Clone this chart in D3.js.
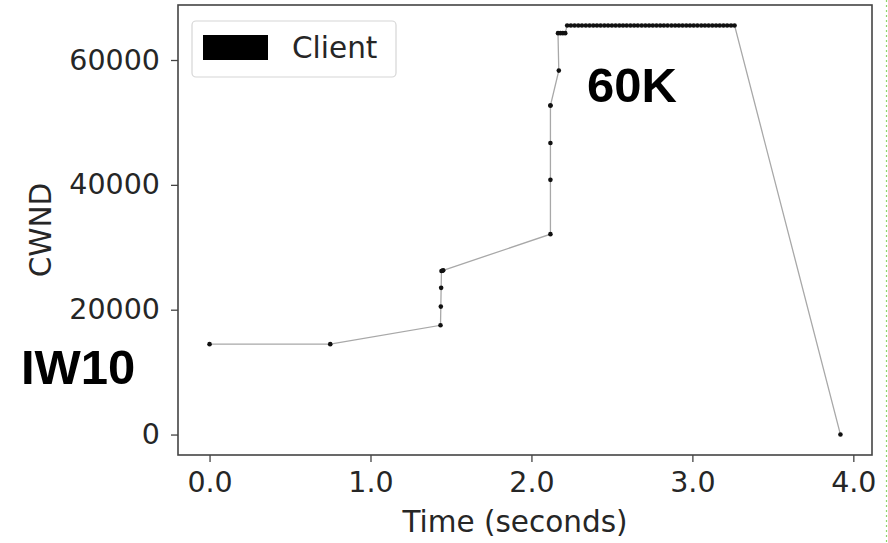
<!DOCTYPE html>
<html>
<head>
<meta charset="utf-8">
<script src="https://cdn.jsdelivr.net/npm/d3@7"></script>
<style>
  html, body { margin: 0; padding: 0; background: #fff; }
  svg { display: block; }
  .tick text { font-family: "DejaVu Sans", sans-serif; }
</style>
</head>
<body>
<svg id="chart" width="888" height="543"></svg>
<script>
// Congestion window of the client over time
const timeEarly = [0.0, 0.75, 1.435, 1.437, 1.439, 1.441, 1.446, 1.452];
const cwndEarly = [14480, 14480, 17500, 20500, 23500, 26200, 26250, 26300];

const timeMid = [2.118, 2.118, 2.118, 2.118, 2.118, 2.17, 2.165, 2.18, 2.195, 2.21];
const cwndMid = [32100, 40800, 46700, 52700, 52700, 58300, 64300, 64300, 64300, 64300];

const timeTop = [2.222, 2.245, 2.268, 2.291, 2.314, 2.338, 2.361, 2.384, 2.407, 2.430,
                 2.453, 2.476, 2.500, 2.523, 2.546, 2.569, 2.592, 2.615, 2.638, 2.661,
                 2.685, 2.708, 2.731, 2.754, 2.777, 2.800, 2.823, 2.846, 2.870, 2.893,
                 2.916, 2.939, 2.962, 2.985, 3.008, 3.031, 3.055, 3.078, 3.101, 3.124,
                 3.147, 3.170, 3.193, 3.216, 3.240, 3.262];
const cwndTopValue = 65535;

const timeEnd = [3.92];
const cwndEnd = [0];

const xTicks = [0, 1, 2, 3, 4];
const xTickLabels = ["0.0", "1.0", "2.0", "3.0", "4.0"];
const yTicks = [0, 20000, 40000, 60000];
const seriesName = "Client";

// assemble the series
const points = [];
timeEarly.forEach((t, i) => points.push({ t, w: cwndEarly[i] }));
timeMid.forEach((t, i) => points.push({ t, w: cwndMid[i] }));
timeTop.forEach(t => points.push({ t, w: cwndTopValue }));
timeEnd.forEach((t, i) => points.push({ t, w: cwndEnd[i] }));

const svg = d3.select("#chart");
const plot = { left: 178, right: 872, top: 5, bottom: 455 };

// 5% padding on both axes, like the usual autoscale
const tExt = d3.extent(points, d => d.t);
const wExt = d3.extent(points, d => d.w);
const tPad = (tExt[1] - tExt[0]) * 0.05;
const wPad = (wExt[1] - wExt[0]) * 0.05;

const x = d3.scaleLinear().domain([tExt[0] - tPad, tExt[1] + tPad]).range([plot.left, plot.right]);
const y = d3.scaleLinear().domain([wExt[0] - wPad, wExt[1] + wPad]).range([plot.bottom, plot.top]);

const axisColor = "#444";
const textColor = "#262626";
const tickFont = 28.5;
const labelFont = 29.5;

// connecting line
svg.append("path")
  .datum(points)
  .attr("fill", "none")
  .attr("stroke", "#a8a8a8")
  .attr("stroke-width", 1.3)
  .attr("d", d3.line().x(d => x(d.t)).y(d => y(d.w)));

// point markers
svg.append("g")
  .selectAll("circle")
  .data(points)
  .join("circle")
  .attr("cx", d => x(d.t))
  .attr("cy", d => y(d.w))
  .attr("r", 2.3)
  .attr("fill", "#111");

// axes
const xAxis = d3.axisBottom(x).tickValues(xTicks).tickFormat((d, i) => xTickLabels[i]).tickSize(7).tickSizeOuter(0).tickPadding(10);
const yAxis = d3.axisLeft(y).tickValues(yTicks).tickFormat(d3.format("d")).tickSize(7).tickSizeOuter(0).tickPadding(11);

const gx = svg.append("g").attr("transform", `translate(0,${plot.bottom})`).call(xAxis);
const gy = svg.append("g").attr("transform", `translate(${plot.left},0)`).call(yAxis);
[gx, gy].forEach(g => {
  g.select(".domain").remove();
  g.selectAll(".tick line").attr("stroke", axisColor).attr("stroke-width", 1.3);
  g.selectAll(".tick text").attr("fill", textColor).style("font-size", tickFont + "px");
});

// frame
svg.append("rect")
  .attr("x", plot.left).attr("y", plot.top)
  .attr("width", plot.right - plot.left).attr("height", plot.bottom - plot.top)
  .attr("fill", "none").attr("stroke", axisColor).attr("stroke-width", 1.6);

// axis titles
svg.append("text")
  .attr("x", (plot.left + plot.right) / 2 - 10).attr("y", 532)
  .attr("text-anchor", "middle")
  .attr("font-family", "DejaVu Sans, sans-serif").attr("font-size", labelFont)
  .attr("fill", textColor)
  .text("Time (seconds)");

svg.append("text")
  .attr("transform", `translate(51,${(plot.top + plot.bottom) / 2}) rotate(-90)`)
  .attr("text-anchor", "middle")
  .attr("font-family", "DejaVu Sans, sans-serif").attr("font-size", labelFont)
  .attr("fill", textColor)
  .text("CWND");

// legend
const lg = svg.append("g");
lg.append("rect")
  .attr("x", 192).attr("y", 21).attr("width", 204).attr("height", 56)
  .attr("rx", 4).attr("fill", "#fff").attr("stroke", "#d6d6d6").attr("stroke-width", 1.2);
lg.append("rect")
  .attr("x", 203).attr("y", 35).attr("width", 65).attr("height", 25).attr("fill", "#000");
lg.append("text")
  .attr("x", 292).attr("y", 58)
  .attr("font-family", "DejaVu Sans, sans-serif").attr("font-size", labelFont)
  .attr("fill", textColor)
  .text(seriesName);

// annotations
svg.append("text")
  .attr("x", 587).attr("y", 102)
  .attr("font-family", "'Liberation Sans', Arial, sans-serif").attr("font-weight", "bold")
  .attr("font-size", 49).attr("fill", "#000")
  .text("60K");
svg.append("text")
  .attr("x", 21).attr("y", 384)
  .attr("font-family", "'Liberation Sans', Arial, sans-serif").attr("font-weight", "bold")
  .attr("font-size", 49).attr("fill", "#000")
  .text("IW10");

// faint dotted rule at the right edge
svg.append("line")
  .attr("x1", 886.5).attr("x2", 886.5).attr("y1", 0).attr("y2", 543)
  .attr("stroke", "#8fd46a").attr("stroke-width", 1.2).attr("stroke-dasharray", "2,3");
</script>
</body>
</html>
